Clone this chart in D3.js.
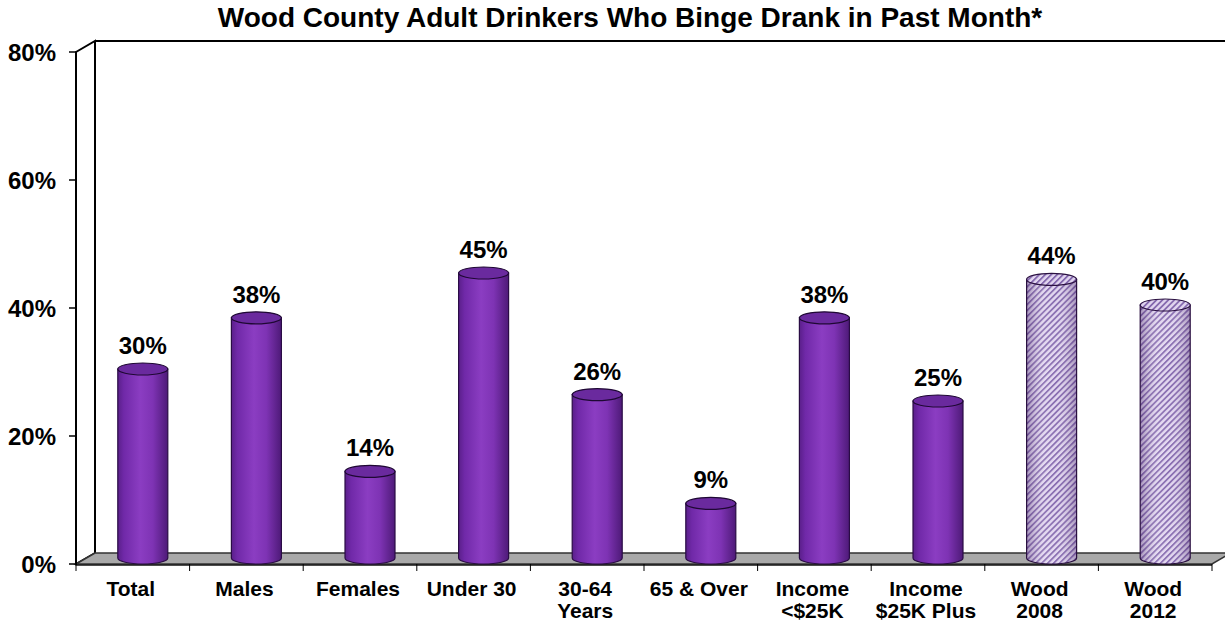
<!DOCTYPE html>
<html><head><meta charset="utf-8">
<script src="https://cdn.jsdelivr.net/npm/d3@7"></script>
<style>body{margin:0;background:#fff;} svg{display:block;font-family:"Liberation Sans",Arial,sans-serif;}</style>
</head><body>
<svg id="chart" width="1225" height="625"></svg>
<script>
const categories = ["Total","Males","Females","Under 30","30-64 Years","65 & Over","Income <$25K","Income $25K Plus","Wood 2008","Wood 2012"];
const labelLines = [["Total"],["Males"],["Females"],["Under 30"],["30-64","Years"],["65 & Over"],["Income","<$25K"],["Income","$25K Plus"],["Wood","2008"],["Wood","2012"]];
const values = [30,38,14,45,26,9,38,25,44,40];
const hatched = [false,false,false,false,false,false,false,false,true,true];
const yTicks = [0,20,40,60,80];
const title = "Wood County Adult Drinkers Who Binge Drank in Past Month*";

const svg = d3.select("#chart");
const x0 = 76, x1 = 1212, yBase = 564, yTop = 52;
const dx = 19, dy = 11;
const x = d3.scaleBand().domain(categories).range([x0, x1]).padding(0);
const y = d3.scaleLinear().domain([0, 80]).range([yBase, yTop]);

const defs = svg.append("defs");
const g1 = defs.append("linearGradient").attr("id","gBody").attr("x1","0").attr("x2","1").attr("y1","0").attr("y2","0");
[[0,"#5a1f8a"],[0.12,"#7029a8"],[0.45,"#8b3dc2"],[0.7,"#7e33b4"],[1,"#4e1a78"]].forEach(s=>g1.append("stop").attr("offset",s[0]).attr("stop-color",s[1]));
const pat = defs.append("pattern").attr("id","hatch").attr("patternUnits","userSpaceOnUse").attr("width",4.2).attr("height",4.2).attr("patternTransform","rotate(45)");
pat.append("rect").attr("width",4.2).attr("height",4.2).attr("fill","#e2d6f0");
pat.append("rect").attr("width",1.8).attr("height",4.2).attr("fill","#8468ae");
const g2 = defs.append("linearGradient").attr("id","gShade").attr("x1","0").attr("x2","1").attr("y1","0").attr("y2","0");
[[0,"#3a1a5a",0.35],[0.35,"#ffffff",0.12],[0.6,"#ffffff",0.04],[1,"#3a1a5a",0.35]].forEach(s=>g2.append("stop").attr("offset",s[0]).attr("stop-color",s[1]).attr("stop-opacity",s[2]));

// walls
svg.append("polygon").attr("points",`${x0},${yTop} ${x0+dx},${yTop-dy} ${x0+dx},${yBase-dy} ${x0},${yBase}`).attr("fill","#fff").attr("stroke","#000").attr("stroke-width",2);
svg.append("line").attr("x1",x0+dx).attr("y1",yTop-dy).attr("x2",1225).attr("y2",yTop-dy).attr("stroke","#000").attr("stroke-width",2);
// floor
svg.append("polygon").attr("points",`${x0},${yBase} ${x0+dx},${yBase-dy} ${x1+dx},${yBase-dy} ${x1},${yBase}`).attr("fill","#a9a9a9").attr("stroke","#333").attr("stroke-width",1.5);
svg.append("line").attr("x1",x0).attr("y1",yBase+1).attr("x2",x1).attr("y2",yBase+1).attr("stroke","#111").attr("stroke-width",1.5);
// front axis
svg.append("line").attr("x1",x0).attr("y1",yTop).attr("x2",x0).attr("y2",yBase+1).attr("stroke","#000").attr("stroke-width",2);
// y ticks + labels
yTicks.forEach(t=>{
  svg.append("line").attr("x1",x0-7).attr("x2",x0).attr("y1",y(t)).attr("y2",y(t)).attr("stroke","#000").attr("stroke-width",1.5);
  svg.append("text").attr("x",56).attr("y",y(t)).attr("dy","0.36em").attr("text-anchor","end").attr("font-size",24).attr("font-weight","bold").text(t+"%");
});
// x ticks
const bounds = categories.map(c=>x(c)).concat([x1]);
bounds.forEach(b=>svg.append("line").attr("x1",b).attr("x2",b).attr("y1",yBase).attr("y2",yBase+7).attr("stroke","#000").attr("stroke-width",1));
// x labels
categories.forEach((c,i)=>{
  const t = svg.append("text").attr("text-anchor","middle").attr("font-size",21).attr("font-weight","bold");
  labelLines[i].forEach((ln,j)=>t.append("tspan").attr("x",x(c)+x.bandwidth()/2 - 2).attr("y",596+j*22).text(ln));
});
// bars
const rx = 25, ry = 6;
categories.forEach((c,i)=>{
  const cx = x(c)+x.bandwidth()/2 + 10;
  const yb = yBase - 6, yt = y(values[i]) - 3;
  const g = svg.append("g");
  const body = `M${cx-rx},${yt} L${cx-rx},${yb} A${rx},${ry} 0 0 0 ${cx+rx},${yb} L${cx+rx},${yt} Z`;
  if (hatched[i]) {
    g.append("path").attr("d",body).attr("fill","url(#hatch)");
    g.append("path").attr("d",body).attr("fill","url(#gShade)").attr("stroke","#2a1040").attr("stroke-width",1.2);
    g.append("ellipse").attr("cx",cx).attr("cy",yt).attr("rx",rx).attr("ry",ry).attr("fill","url(#hatch)").attr("stroke","#2a1040").attr("stroke-width",1.2);
  } else {
    g.append("path").attr("d",body).attr("fill","url(#gBody)").attr("stroke","#2a0c45").attr("stroke-width",1.2);
    g.append("ellipse").attr("cx",cx).attr("cy",yt).attr("rx",rx).attr("ry",ry).attr("fill","#6a2a9e").attr("stroke","#1e0833").attr("stroke-width",1.2);
  }
  svg.append("text").attr("x",cx).attr("y",yt-ry-9).attr("text-anchor","middle").attr("font-size",24).attr("font-weight","bold").text(values[i]+"%");
});
// title
svg.append("text").attr("x",630).attr("y",27).attr("text-anchor","middle").attr("font-size",28).attr("font-weight","bold").text(title);
</script>
</body></html>
